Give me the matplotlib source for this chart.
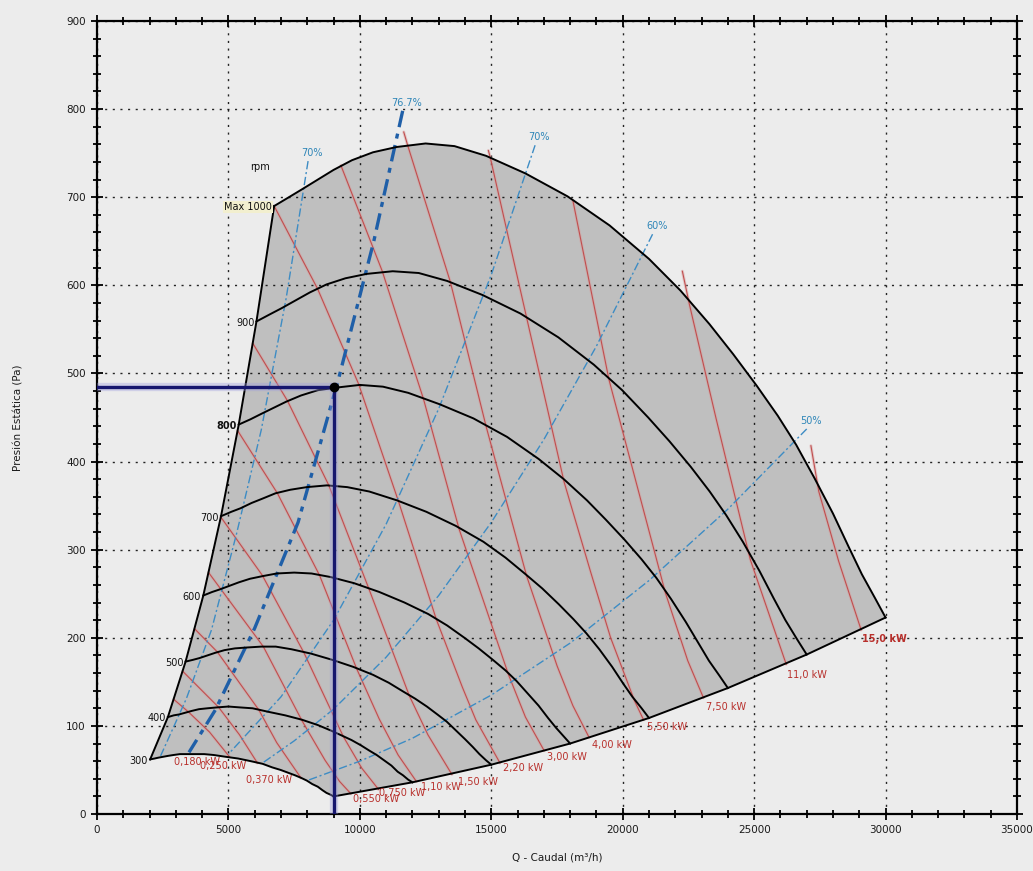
import matplotlib.pyplot as plt
from matplotlib.ticker import MultipleLocator

# rpm curves: flow Q (m3/h) and static pressure (Pa)
q_1000 = [6740, 7300, 7800, 8400, 9000, 9700, 10500, 11400, 12500, 13600, 14800, 16300, 17900, 19500,
          21000, 22200, 23300, 24200, 25100, 25900, 26600, 27300, 28000, 28600, 29100, 29600, 30000]
p_1000 = [690, 700, 709, 720, 731, 742, 751, 757, 761, 758, 747, 727, 701, 668,
          630, 594, 556, 522, 486, 452, 419, 381, 341, 303, 272, 245, 223]
q_900 = [6066, 6570, 7020, 7560, 8100, 8730, 9450, 10260, 11250, 12240, 13320, 14670, 16110, 17550,
         18900, 19980, 20970, 21780, 22590, 23310, 23940, 24570, 25200, 25740, 26190, 26640, 27000]
p_900 = [559, 567, 574, 583, 592, 601, 608, 613, 616, 614, 605, 589, 568, 541,
         510, 481, 450, 423, 394, 366, 339, 309, 276, 245, 220, 198, 181]
q_800 = [5392, 5840, 6240, 6720, 7200, 7760, 8400, 9120, 10000, 10880, 11840, 13040, 14320, 15600,
         16800, 17760, 18640, 19360, 20080, 20720, 21280, 21840, 22400, 22880, 23280, 23680, 24000]
p_800 = [442, 448, 454, 461, 468, 475, 481, 484, 487, 485, 478, 465, 449, 428,
         403, 380, 356, 334, 311, 289, 268, 244, 218, 194, 174, 157, 143]
q_700 = [4718, 5110, 5460, 5880, 6300, 6790, 7350, 7980, 8750, 9520, 10360, 11410, 12530, 13650,
         14700, 15540, 16310, 16940, 17570, 18130, 18620, 19110, 19600, 20020, 20370, 20720, 21000]
p_700 = [338, 343, 347, 353, 358, 364, 368, 371, 373, 371, 366, 356, 343, 327,
         309, 291, 272, 256, 238, 221, 205, 187, 167, 148, 133, 120, 109]
q_600 = [4044, 4380, 4680, 5040, 5400, 5820, 6300, 6840, 7500, 8160, 8880, 9780, 10740, 11700,
         12600, 13320, 13980, 14520, 15060, 15540, 15960, 16380, 16800, 17160, 17460, 17760, 18000]
p_600 = [248, 252, 255, 259, 263, 267, 270, 273, 274, 273, 269, 262, 252, 240,
         227, 214, 200, 188, 175, 163, 151, 137, 123, 109, 98, 88, 80]
q_500 = [3370, 3650, 3900, 4200, 4500, 4850, 5250, 5700, 6250, 6800, 7400, 8150, 8950, 9750,
         10500, 11100, 11650, 12100, 12550, 12950, 13300, 13650, 14000, 14300, 14550, 14800, 15000]
p_500 = [173, 175, 177, 180, 183, 186, 188, 189, 190, 190, 187, 182, 175, 167,
         158, 149, 139, 131, 122, 113, 105, 95, 85, 76, 68, 61, 56]
q_400 = [2696, 2920, 3120, 3360, 3600, 3880, 4200, 4560, 5000, 5440, 5920, 6520, 7160, 7800,
         8400, 8880, 9320, 9680, 10040, 10360, 10640, 10920, 11200, 11440, 11640, 11840, 12000]
p_400 = [110, 112, 113, 115, 117, 119, 120, 121, 122, 121, 120, 116, 112, 107,
         101, 95, 89, 84, 78, 72, 67, 61, 55, 48, 44, 39, 36]
q_300 = [2022, 2190, 2340, 2520, 2700, 2910, 3150, 3420, 3750, 4080, 4440, 4890, 5370, 5850,
         6300, 6660, 6990, 7260, 7530, 7770, 7980, 8190, 8400, 8580, 8730, 8880, 9000]
p_300 = [62, 63, 64, 65, 66, 67, 68, 68, 68, 68, 67, 65, 63, 60,
         57, 53, 50, 47, 44, 41, 38, 34, 31, 27, 24, 22, 20]
rpm_labels = ['300', '400', '500', '600', '700', '800', '900', 'Max 1000']

# constant power lines (kW)
kw_labels = ['0,180 kW', '0,250 kW', '0,370 kW', '0,550 kW', '0,750 kW', '1,10 kW', '1,50 kW',
             '2,20 kW', '3,00 kW', '4,00 kW', '5,50 kW', '7,50 kW', '11,0 kW', '15,0 kW']
kw018_q = [2925, 3474, 4282, 5039]
kw018_p = [130, 116, 93, 65]
kw025_q = [3262, 4632, 5419, 6101]
kw025_p = [162, 121, 90, 58]
kw037_q = [3720, 4577, 6161, 6838, 7758]
kw037_p = [210, 184, 118, 81, 41]
kw055_q = [4246, 6328, 7797, 8677, 9229, 9660]
kw055_p = [274, 190, 106, 61, 37, 23]
kw075_q = [4711, 6287, 7874, 9370, 10074, 10710]
kw075_p = [337, 271, 183, 88, 52, 28]
kw110_q = [5352, 6864, 8465, 9877, 10735, 11456, 12150]
kw110_p = [435, 364, 271, 165, 108, 67, 37]
kw150_q = [5931, 7246, 8820, 10339, 11885, 12588, 13500]
kw150_p = [534, 469, 373, 256, 134, 90, 45]
kw220_q = [6740, 8393, 9953, 11479, 12908, 13899, 14410, 15330]
kw220_p = [690, 596, 488, 354, 221, 144, 107, 58]
kw300_q = [9280, 10853, 12421, 13780, 15657, 16300, 17010]
kw300_p = [736, 616, 471, 323, 158, 110, 72]
kw400_q = [11670, 11818, 13442, 14802, 16346, 17505, 18104, 18720]
kw400_p = [774, 759, 604, 440, 270, 168, 123, 87]
kw550_q = [14890, 14962, 16347, 17769, 18787, 19541, 20443, 20790]
kw550_p = [753, 745, 563, 377, 274, 200, 129, 107]
kw750_q = [18106, 19477, 21624, 22475, 23070]
kw750_p = [696, 493, 251, 174, 132]
kw1100_q = [22270, 22540, 23551, 24851, 26220]
kw1100_p = [616, 578, 449, 289, 170]
kw1500_q = [27160, 27460, 28215, 29070]
kw1500_p = [418, 366, 287, 209]
kw_text_q = [2917, 3900, 5682, 9740, 10720, 12330, 13750, 15450, 17120, 18830, 20910, 23180, 26250, 29090]
kw_text_p = [59, 55, 39, 17, 24, 31, 36, 52, 65, 78, 99, 122, 158, 199]

# efficiency lines
eff_labels = ['70%', '76.7%', '70%', '60%', '50%']
eff70a_q = [8030, 7200, 6250, 5300, 4356, 3400, 2420]
eff70a_p = [741, 586, 436, 317, 209, 131, 66]
eff767_q = [11629, 10530, 9200, 7650, 6000, 4500, 3500]
eff767_p = [798, 650, 495, 331, 211, 118, 70]
eff70b_q = [16667, 15000, 13000, 11000, 9000, 7000, 5000]
eff70b_p = [759, 612, 460, 329, 220, 133, 68]
eff60_q = [21136, 19000, 17000, 15000, 13000, 11000, 9000, 7500, 6300]
eff60_p = [658, 531, 425, 331, 248, 178, 119, 83, 58]
eff50_q = [27000, 24000, 21000, 18000, 15000, 12000, 10000, 8000]
eff50_p = [437, 346, 265, 194, 135, 86, 60, 38]

# duty point
op_q = 9000
op_p = 485

bg = '#ececec'
fig = plt.figure(figsize=(10.33, 8.71), dpi=100, facecolor=bg)
ax = fig.add_axes([0.0939, 0.0654, 0.8906, 0.9105])
ax.set_facecolor(bg)
ax.set_xlim(0, 35000)
ax.set_ylim(0, 900)

curves = [(q_300, p_300), (q_400, p_400), (q_500, p_500), (q_600, p_600),
          (q_700, p_700), (q_800, p_800), (q_900, p_900), (q_1000, p_1000)]

left_q = [c[0][0] for c in curves]
left_p = [c[1][0] for c in curves]
low_q = [c[0][-1] for c in curves[::-1]]
low_p = [c[1][-1] for c in curves[::-1]]
poly_q = left_q + q_1000[1:] + low_q[1:] + q_300[::-1][1:]
poly_p = left_p + p_1000[1:] + low_p[1:] + p_300[::-1][1:]
ax.fill(poly_q, poly_p, color='#bfbfbf', zorder=1, lw=0)

# power lines
red_lines = [(kw018_q, kw018_p), (kw025_q, kw025_p), (kw037_q, kw037_p), (kw055_q, kw055_p),
             (kw075_q, kw075_p), (kw110_q, kw110_p), (kw150_q, kw150_p), (kw220_q, kw220_p),
             (kw300_q, kw300_p), (kw400_q, kw400_p), (kw550_q, kw550_p), (kw750_q, kw750_p),
             (kw1100_q, kw1100_p), (kw1500_q, kw1500_p)]
for q, p in red_lines:
    ax.plot(q, p, color='#d99a9a', lw=2.2, alpha=0.45, zorder=2, solid_capstyle='round')
    ax.plot(q, p, color='#c04e4e', lw=0.8, zorder=2.1)
for txt, q, p in zip(kw_labels, kw_text_q, kw_text_p):
    ax.text(q, p, txt, color='#b8302c', fontsize=7, ha='left', va='center', zorder=6,
            fontweight='bold' if txt == '15,0 kW' else 'normal')

# efficiency lines
blue_lines = [(eff70a_q, eff70a_p), (eff767_q, eff767_p), (eff70b_q, eff70b_p),
              (eff60_q, eff60_p), (eff50_q, eff50_p)]
for i, (q, p) in enumerate(blue_lines):
    if eff_labels[i] == '76.7%':
        ax.plot(q, p, color='#1f5fa8', lw=2.4, ls=(0, (5, 2, 1.5, 2)), zorder=3)
    else:
        ax.plot(q, p, color='#3d8cc4', lw=1.0, ls=(0, (6, 2, 1.5, 2)), zorder=3)
    ax.annotate(eff_labels[i], (q[0], p[0]), xytext=(3, 2), textcoords='offset points',
                ha='center', va='bottom', color='#2f86b8', fontsize=7, zorder=6)

# rpm curves and envelope
for q, p in curves:
    ax.plot(q, p, color='k', lw=1.4, zorder=4)
ax.plot(left_q, left_p, color='k', lw=1.4, zorder=4)
ax.plot(low_q, low_p, color='k', lw=1.4, zorder=4)
for (q, p), lab in zip(curves, rpm_labels):
    box = dict(boxstyle='square,pad=0.1', fc='#f2efcf', ec='none') if lab.startswith('Max') else None
    ax.annotate(lab, (q[0], p[0]), xytext=(-1.5, -1), textcoords='offset points',
                ha='right', va='center', fontsize=7, color='#111111', zorder=6, bbox=box,
                fontweight='bold' if lab == '800' else 'normal')
ax.annotate('rpm', (q_1000[0], p_1000[0]), xytext=(-10, 28), textcoords='offset points',
            ha='center', va='center', fontsize=7, color='#111111')

# duty point
ax.plot([0, op_q], [op_p, op_p], color='#9a9ae0', lw=6, alpha=0.35, zorder=4.5)
ax.plot([op_q, op_q], [0, op_p], color='#9a9ae0', lw=6, alpha=0.35, zorder=4.5)
ax.plot([0, op_q], [op_p, op_p], color='#16166e', lw=2.4, zorder=5)
ax.plot([op_q, op_q], [0, op_p], color='#16166e', lw=2.4, zorder=5)
ax.plot(op_q, op_p, 'o', color='k', ms=6, zorder=6)

# axes styling
ax.xaxis.set_major_locator(MultipleLocator(5000))
ax.xaxis.set_minor_locator(MultipleLocator(1000))
ax.yaxis.set_major_locator(MultipleLocator(100))
ax.yaxis.set_minor_locator(MultipleLocator(20))
ax.tick_params(which='both', direction='inout', top=True, right=True, width=1.3, color='k')
ax.tick_params(which='major', length=9, labelsize=7.5, labelcolor='#1a1a1a')
ax.tick_params(which='minor', length=6)
ax.grid(True, which='major', color='k', ls=(0, (1.5, 4)), lw=1.0, alpha=0.85, zorder=2.5)
for s in ax.spines.values():
    s.set_linewidth(1.6)

ax.set_xlabel('Q - Caudal (m³/h)', fontsize=7.5, color='#1a1a1a')
ax.set_ylabel('Presión Estática (Pa)', fontsize=7.5, color='#1a1a1a')
ax.xaxis.set_label_coords(0.5, -0.048)
ax.yaxis.set_label_coords(-0.08, 0.5)

fig.savefig('out.png', dpi=100, facecolor=bg)
